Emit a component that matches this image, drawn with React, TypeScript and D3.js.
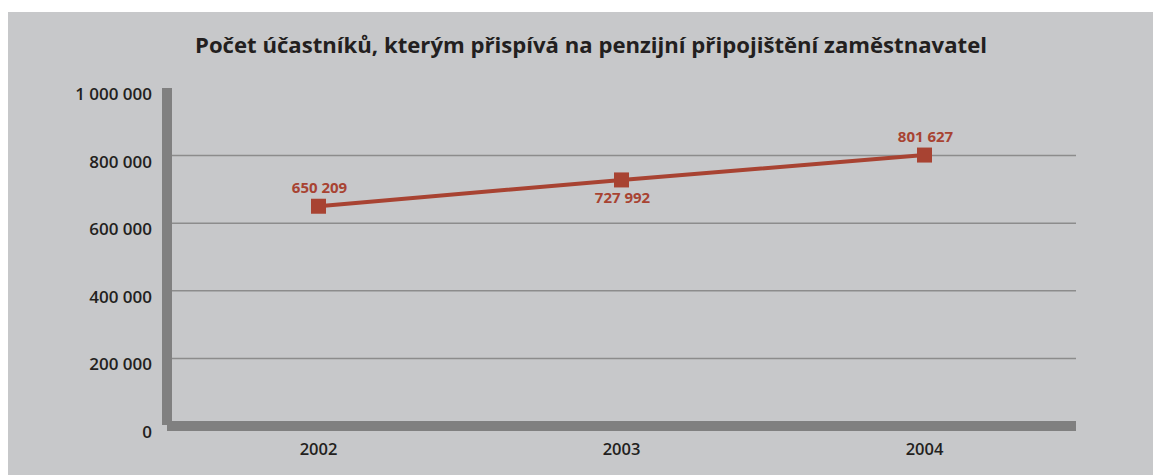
import React from "react";
import * as d3 from "d3";

const years = ["2002", "2003", "2004"];
const participants = [650209, 727992, 801627];
const labelPlacement = ["above", "below", "above"];
const yTicks = [0, 200000, 400000, 600000, 800000, 1000000];
const gridTicks = [200000, 400000, 600000, 800000];
const title = "Počet účastníků, kterým přispívá na penzijní připojištění zaměstnavatel";

const W = 1153;
const H = 467;
const FONT = "'Open Sans', 'DejaVu Sans', sans-serif";

function fmt(v: number): string {
  return d3.format(",")(v).replace(/,/g, " ");
}

export default function App() {
  const x = d3.scaleBand<string>().domain(years).range([159, 1068]);
  const y = d3.scaleLinear().domain([0, 1000000]).range([418, 80]);
  const line = d3
    .line<number>()
    .x((_, i) => (x(years[i]) as number) + x.bandwidth() / 2)
    .y((d) => y(d));
  const red = "#a84332";
  const axisCol = "#808080";

  return (
    <svg width={W} height={H} style={{ display: "block" }}>
      <rect x={0} y={4} width={W} height={H - 4} fill="#c7c8ca" />
      <text
        x={583}
        y={45}
        textAnchor="middle"
        fontFamily={FONT}
        fontWeight={700}
        fontSize={21}
        fill="#231f20"
        textLength={792}
        lengthAdjust="spacingAndGlyphs"
      >
        {title}
      </text>
      {gridTicks.map((t) => (
        <line key={"g" + t} x1={164} x2={1068} y1={y(t)} y2={y(t)} stroke="#8c8c8c" strokeWidth={1.5} />
      ))}
      {yTicks.map((t) => (
        <text
          key={"t" + t}
          x={144}
          y={y(t) + 6}
          dy="0.35em"
          textAnchor="end"
          fontFamily={FONT}
          fontWeight={600}
          fontSize={17}
          fill="#231f20"
        >
          {fmt(t)}
        </text>
      ))}
      <rect x={154} y={80} width={10} height={337} fill={axisCol} />
      <rect x={159} y={413} width={909} height={10} fill={axisCol} />
      {years.map((yr) => (
        <text
          key={yr}
          x={(x(yr) as number) + x.bandwidth() / 2}
          y={447}
          textAnchor="middle"
          fontFamily={FONT}
          fontWeight={600}
          fontSize={16.5}
          fill="#231f20"
        >
          {yr}
        </text>
      ))}
      <path d={line(participants) || ""} fill="none" stroke={red} strokeWidth={4} />
      {participants.map((v, i) => {
        const cx = (x(years[i]) as number) + x.bandwidth() / 2;
        const cy = y(v);
        return (
          <g key={i}>
            <rect x={cx - 7.5} y={cy - 7.5} width={15} height={15} fill={red} />
            <text
              x={cx + 1}
              y={labelPlacement[i] === "above" ? cy - 13 : cy + 23}
              textAnchor="middle"
              fontFamily={FONT}
              fontWeight={700}
              fontSize={15}
              fill={red}
            >
              {fmt(v)}
            </text>
          </g>
        );
      })}
    </svg>
  );
}
